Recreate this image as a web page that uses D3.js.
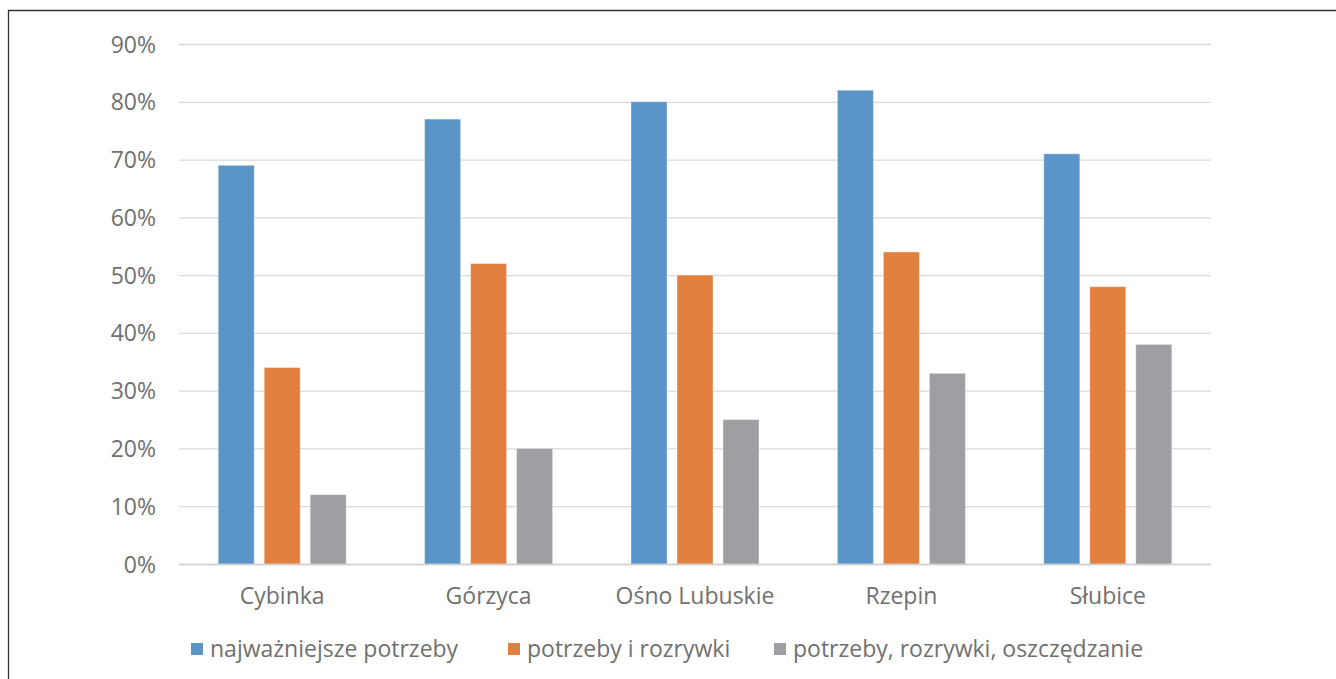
<!DOCTYPE html>
<html><head><meta charset="utf-8">
<script src="https://cdn.jsdelivr.net/npm/d3@7"></script>
<style>body{margin:0;background:#fff}svg{display:block}</style>
</head><body>
<svg id="c" width="1336" height="679"></svg>
<script>
const categories = ["Cybinka","Górzyca","Ośno Lubuskie","Rzepin","Słubice"];
const seriesNames = ["najważniejsze potrzeby","potrzeby i rozrywki","potrzeby, rozrywki, oszczędzanie"];
const s1 = [69,77,80,82,71];
const s2 = [34,52,50,54,48];
const s3 = [12,20,25,33,38];
const yTicks = [0,10,20,30,40,50,60,70,80,90];
const colors = ["#5b94c7","#e1803f","#9e9fa3"];
const series = [s1,s2,s3];

const svg = d3.select("#c");
const font = "'Open Sans', sans-serif";
const txtColor = "#707070";
// frame
svg.append("path").attr("d","M8.5,679 L8.5,10.5 L1336,10.5").attr("fill","none").attr("stroke","#333").attr("stroke-width",1.3);

const x = d3.scaleBand().domain(categories).range([179,1211]);
const y = d3.scaleLinear().domain([0,90]).range([564,44]);

svg.append("g").selectAll("line").data(yTicks).join("line")
  .attr("x1",179).attr("x2",1211).attr("y1",d=>y(d)+0.5).attr("y2",d=>y(d)+0.5)
  .attr("stroke","#d9d9d9").attr("stroke-width",1.3);

const yAxis = d3.axisLeft(y).tickValues(yTicks).tickFormat(d=>d+"%").tickSize(0).tickPadding(0);
const ya = svg.append("g").attr("transform","translate(156,0)").call(yAxis);
ya.select(".domain").remove();
ya.selectAll("text").attr("font-family",font).attr("font-size",23).attr("fill",txtColor).attr("dy","0.35em");

const barW = 36, step = 46;
const groups = svg.append("g").selectAll("g").data(categories).join("g")
  .attr("transform",d=>`translate(${x(d)+x.bandwidth()/2-(2*step+barW)/2},0)`);
series.forEach((s,i)=>{
  groups.append("rect")
    .attr("x",i*step)
    .attr("width",barW)
    .attr("y",(d,j)=>y(s[j]))
    .attr("height",(d,j)=>y(0)-y(s[j]))
    .attr("fill",colors[i]).attr("stroke","rgba(255,255,255,0.35)").attr("stroke-width",1);
});

// baseline
svg.append("line").attr("x1",179).attr("x2",1211).attr("y1",y(0)+0.5).attr("y2",y(0)+0.5).attr("stroke","#d0d0d0").attr("stroke-width",1.5);

const xAxis = d3.axisBottom(x).tickSize(0).tickPadding(0);
const xa = svg.append("g").attr("transform","translate(0,596)").call(xAxis);
xa.select(".domain").remove();
xa.selectAll("text").attr("font-family",font).attr("font-size",23).attr("fill",txtColor).attr("dy","0.35em");

// legend
const legX = [191,508,774];
const leg = svg.append("g").selectAll("g").data(seriesNames).join("g")
  .attr("transform",(d,i)=>`translate(${legX[i]},643)`);
leg.append("rect").attr("width",12).attr("height",12).attr("fill",(d,i)=>colors[i]);
leg.append("text").attr("x",19).attr("y",6).attr("dy","0.35em").text(d=>d)
  .attr("font-family",font).attr("font-size",23).attr("fill",txtColor);
</script>
</body></html>
